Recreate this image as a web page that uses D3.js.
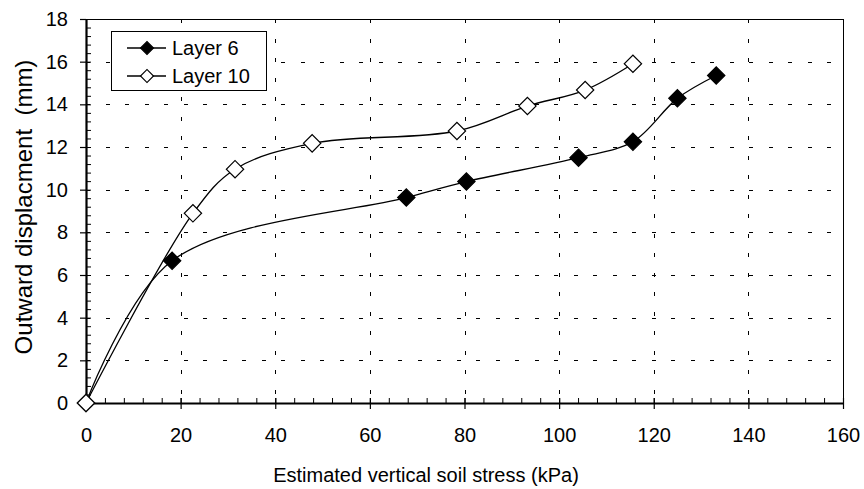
<!DOCTYPE html>
<html>
<head>
<meta charset="utf-8">
<script src="https://cdn.jsdelivr.net/npm/d3@7/dist/d3.min.js"></script>
<style>
  html, body { margin: 0; padding: 0; background: #fff; }
  svg { display: block; }
  text { font-family: Arial, "Liberation Sans", sans-serif; fill: #000; }
</style>
</head>
<body>
<svg id="chart" width="864" height="489"></svg>
<script>
// Outward displacement measured against estimated vertical soil stress
const seriesNames = ["Layer 6", "Layer 10"];
const stressLayer6 = [0, 18.2, 67.7, 80.4, 104.1, 115.6, 125.0, 133.2];
const dispLayer6   = [0, 6.67, 9.63, 10.38, 11.5, 12.25, 14.28, 15.35];
const stressLayer10 = [0, 22.6, 31.5, 47.8, 78.4, 93.3, 105.5, 115.6];
const dispLayer10   = [0, 8.89, 10.96, 12.17, 12.75, 13.92, 14.67, 15.9];
const xTickValues = [0, 20, 40, 60, 80, 100, 120, 140, 160];
const yTickValues = [0, 2, 4, 6, 8, 10, 12, 14, 16, 18];
const xTitle = "Estimated vertical soil stress (kPa)";
const yTitle = "Outward displacment  (mm)";

const svg = d3.select("#chart");
const plot = { left: 86, right: 843, top: 19, bottom: 403 };

const x = d3.scaleLinear().domain([0, 160]).range([plot.left, plot.right]);
const y = d3.scaleLinear().domain([0, 18]).range([plot.bottom, plot.top]);

// dashed grid
const grid = svg.append("g").attr("stroke", "#000").attr("stroke-width", 1)
  .attr("stroke-dasharray", "4,15.5").attr("shape-rendering", "crispEdges");
grid.selectAll(".gh").data(yTickValues.filter(v => v > 0 && v < 18)).join("line")
  .attr("x1", plot.left).attr("x2", plot.right)
  .attr("y1", d => Math.round(y(d)) + 0.5).attr("y2", d => Math.round(y(d)) + 0.5);
grid.selectAll(".gv").data(xTickValues.filter(v => v > 0 && v < 160)).join("line")
  .attr("y1", plot.top).attr("y2", plot.bottom)
  .attr("x1", d => Math.round(x(d)) + 0.5).attr("x2", d => Math.round(x(d)) + 0.5);

// top and right frame
svg.append("path")
  .attr("d", `M${plot.left},${plot.top + 0.5}H${plot.right + 0.5}V${plot.bottom}`)
  .attr("fill", "none").attr("stroke", "#000").attr("stroke-width", 1)
  .attr("shape-rendering", "crispEdges");

// minor ticks (inside)
const yMinor = d3.range(0, 18.001, 0.4);
const xMinor = d3.range(0, 160.001, 4);
svg.append("g").attr("transform", `translate(${plot.left},0)`)
  .call(d3.axisRight(y).tickValues(yMinor).tickSize(5).tickFormat(""))
  .call(g => g.select(".domain").remove())
  .call(g => g.selectAll("line").attr("stroke-width", 1));
svg.append("g").attr("transform", `translate(0,${plot.bottom})`)
  .call(d3.axisTop(x).tickValues(xMinor).tickSize(5).tickFormat(""))
  .call(g => g.select(".domain").remove())
  .call(g => g.selectAll("line").attr("stroke-width", 1));

// major axes
const yAxis = svg.append("g").attr("transform", `translate(${plot.left},0)`)
  .call(d3.axisLeft(y).tickValues(yTickValues).tickSize(6).tickSizeOuter(0).tickPadding(12));
const xAxis = svg.append("g").attr("transform", `translate(0,${plot.bottom})`)
  .call(d3.axisBottom(x).tickValues(xTickValues).tickSize(6).tickSizeOuter(0).tickPadding(19));
[yAxis, xAxis].forEach(g => {
  g.select(".domain").attr("stroke-width", 2.2);
  g.selectAll(".tick line").attr("stroke-width", 1.2);
  g.selectAll("text").attr("font-size", 20).attr("font-family", "Arial, 'Liberation Sans', sans-serif");
});
xAxis.selectAll(".tick line").attr("y1", -5);

// axis titles
svg.append("text").attr("x", 426).attr("y", 482)
  .attr("text-anchor", "middle").attr("font-size", 20).text(xTitle);
svg.append("text").attr("transform", `translate(32,207) rotate(-90)`)
  .attr("text-anchor", "middle").attr("font-size", 24).style("white-space", "pre").text(yTitle);

// series
const series = [
  { name: seriesNames[0], xs: stressLayer6, ys: dispLayer6, fill: "#000" },
  { name: seriesNames[1], xs: stressLayer10, ys: dispLayer10, fill: "#fff" }
];
const line = d3.line().x(d => x(d[0])).y(d => y(d[1])).curve(d3.curveCatmullRom.alpha(0.5));
const diamond = d3.symbol().type(d3.symbolSquare);

series.forEach(s => {
  const pts = s.xs.map((v, i) => [v, s.ys[i]]);
  svg.append("path").datum(pts).attr("d", line)
    .attr("fill", "none").attr("stroke", "#000").attr("stroke-width", 1.3);
});
series.forEach(s => {
  const pts = s.xs.map((v, i) => [v, s.ys[i]]);
  svg.append("g").selectAll("path").data(pts).join("path")
    .attr("d", diamond.size(150)())
    .attr("transform", d => `translate(${x(d[0])},${y(d[1])}) rotate(45)`)
    .attr("fill", s.fill).attr("stroke", "#000").attr("stroke-width", 1.2);
});

// legend
const lg = svg.append("g");
lg.append("rect").attr("x", 111.5).attr("y", 31.5).attr("width", 155).attr("height", 59)
  .attr("fill", "#fff").attr("stroke", "#000").attr("stroke-width", 1);
series.forEach((s, i) => {
  const cy = 48 + i * 28;
  lg.append("line").attr("x1", 127).attr("x2", 166).attr("y1", cy).attr("y2", cy)
    .attr("stroke", "#000").attr("stroke-width", 1.3);
  lg.append("path").attr("d", diamond.size(84)())
    .attr("transform", `translate(147,${cy}) rotate(45)`)
    .attr("fill", s.fill).attr("stroke", "#000").attr("stroke-width", 1.2);
  lg.append("text").attr("x", 172).attr("y", cy).attr("dy", "0.36em")
    .attr("font-size", 20).text(s.name);
});
</script>
</body>
</html>
